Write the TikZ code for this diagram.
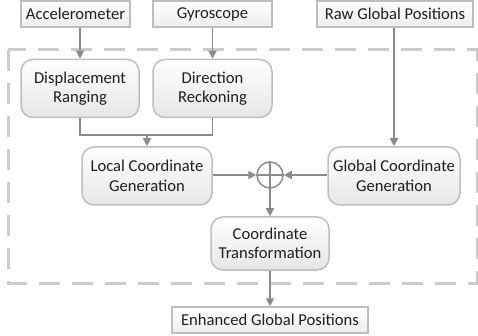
\documentclass[tikz,border=0pt]{standalone}
\usepackage{fontspec}
\setmainfont{Carlito}
\usetikzlibrary{arrows.meta,positioning}
\definecolor{boxline}{HTML}{BEBEBE}
\definecolor{boxfill}{HTML}{E6E6E6}
\definecolor{iofill}{HTML}{EDEDED}
\definecolor{flowgray}{HTML}{8C8C8C}
\definecolor{framegray}{HTML}{CCCCCC}
\definecolor{textgray}{HTML}{1F1F1F}
\begin{document}
\begin{tikzpicture}[x=1pt,y=-1pt,
    every node/.style={font=\fontsize{16.6}{19.5}\selectfont, text=textgray},
    proc/.style={draw=boxline, line width=1.5pt, rounded corners=12pt, top color=white, bottom color=boxfill, align=center, minimum height=58pt},
    io/.style={draw=boxline, line width=1.5pt, top color=white, bottom color=iofill, minimum height=26pt},
    flow/.style={draw=flowgray, line width=1.8pt, -{Triangle[length=8pt,width=8pt]}}]
    \useasboundingbox (0,0) rectangle (478,336);
    % processing frame
    \draw[framegray, line width=3pt, dash pattern=on 21pt off 12pt] (8,50) rectangle (477,283);
    % inputs
    \node[io, minimum width=109pt] (acc) at (75.5,14) {Accelerometer};
    \node[io, minimum width=119pt] (gyro) at (212.5,14) {Gyroscope};
    \node[io, minimum width=156pt] (raw) at (395,14) {Raw Global Positions};
    % processing steps
    \node[proc, minimum width=118pt] (disp) at (80,88.5) {Displacement\\Ranging};
    \node[proc, minimum width=119pt] (dir) at (212.5,88.5) {Direction\\Reckoning};
    \node[proc, minimum width=130pt] (local) at (147,176) {Local Coordinate\\Generation};
    \node[proc, minimum width=132pt] (global) at (394,176) {Global Coordinate\\Generation};
    \node[circle, draw=flowgray, line width=1.5pt, minimum size=26pt, inner sep=0pt] (plus) at (270,175) {};
    \draw[flowgray, line width=1.5pt] (plus.north) -- (plus.south) (plus.west) -- (plus.east);
    \node[proc, minimum width=118pt, minimum height=53pt] (trans) at (270,243.5) {Coordinate\\Transformation};
    % output
    \node[io, minimum width=196pt] (enh) at (270,320) {Enhanced Global Positions};
    % connectors
    \draw[flow] (disp.north |- acc.south) -- (disp.north);
    \draw[flow] (dir.north |- gyro.south) -- (dir.north);
    \draw[flow] (global.north |- raw.south) -- (global.north);
    \coordinate (merge) at (local.north |- 0,135);
    \draw[flowgray, line width=1.8pt] (disp.south) |- (merge) -| (dir.south);
    \draw[flow] (merge) -- (local.north);
    \draw[flow] (local.east |- plus) -- (plus.west);
    \draw[flow] (global.west |- plus) -- (plus.east);
    \draw[flow] (plus.south) -- (trans.north);
    \draw[flow] (trans.south) -- (enh.north);
\end{tikzpicture}
\end{document}
